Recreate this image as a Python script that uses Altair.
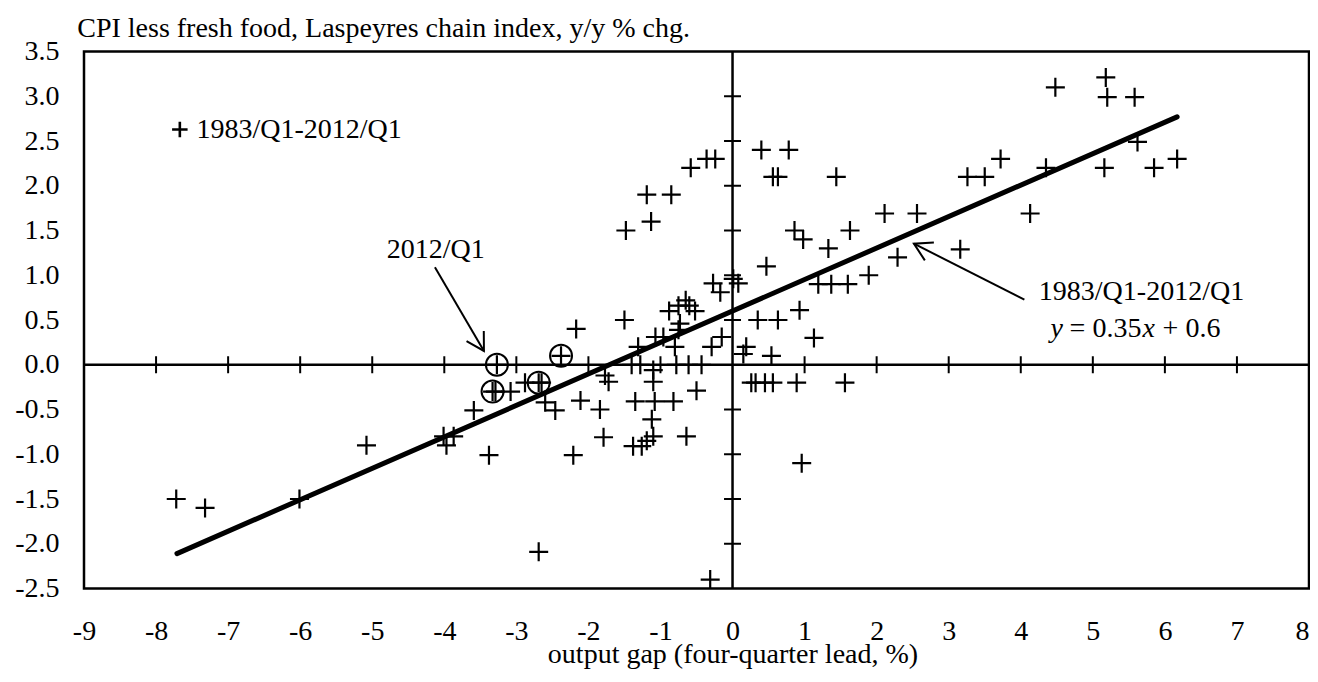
import altair as alt
import pandas as pd

# ---------------- data ----------------
gap_x = [
    -7.72, -7.32, -6.01, -5.08,
    -4.01, -3.87, -3.97, -3.59, -3.38,
    -3.27, -3.33, -3.29, -3.08, -2.88, -2.69, -2.65, -2.38,
    -2.60, -2.46, -2.69, -2.21, -2.17, -2.11,
    -1.84, -1.79, -1.77, -1.72, -1.50,
    -1.40, -1.28, -1.31, -1.10, -1.10, -1.35, -1.08, -0.82, -1.12, -1.10, -1.19, -1.38, -1.26, -0.64, -0.50,
    -1.07, -0.96, -0.80, -0.75, -0.88, -0.75, -0.65, -0.60, -0.52, -0.73,
    -0.78, -0.61, -0.43, -0.29, -0.15, -0.31,
    -0.27, -0.17, 0.01, 0.08,
    -1.48, -1.13, -1.19, -0.85, -0.58, -0.36, -0.24,
    0.40, 0.78, 0.56, 0.63, 1.44, 0.86, 0.98, 1.63, 1.33, 0.47, 1.89, 1.19, 1.37, 1.60, 0.93, 0.35, 0.63, 1.13, 0.19, 0.15, 0.54,
    0.26, 0.32, 0.45, 0.56, 0.89, 1.56, 0.96,
    2.11, 2.56, 3.16, 2.29, 3.26, 3.50, 3.72, 4.13, 4.35, 4.48, 5.18, 5.20, 5.58, 5.62, 5.16, 5.85, 6.17,
]
cpi_y = [
    -1.50, -1.60, -1.50, -0.90,
    -0.80, -0.80, -0.90, -0.51, -1.01,
    0.00, -0.30, -0.30, -0.30, -0.20, -0.20, -0.20, 0.10,
    -0.42, -0.51, -2.09, -1.01, 0.40, -0.40,
    -0.50, -0.81, -0.12, -0.19, 0.50,
    0.00, 0.00, 0.20, -0.06, -0.19, -0.41, -0.41, -0.41, -0.61, -0.80, -0.85, -0.91, -0.91, -0.80, -0.29,
    0.31, 0.31, 0.20, 0.39, 0.60, 0.66, 0.72, 0.66, 0.60, 0.46,
    0.00, 0.00, 0.00, 0.20, 0.31, -2.40,
    0.91, 0.81, 0.96, 0.91,
    1.50, 1.60, 1.90, 1.90, 2.20, 2.30, 2.30,
    2.40, 2.40, 2.10, 2.10, 2.10, 1.50, 1.40, 1.50, 1.30, 1.10, 1.00, 0.90, 0.90, 0.90, 0.61, 0.50, 0.50, 0.30, 0.20, 0.12, 0.10,
    -0.20, -0.20, -0.20, -0.20, -0.20, -0.20, -1.10,
    1.69, 1.69, 1.29, 1.20, 2.10, 2.10, 2.30, 1.69, 2.20, 3.10, 3.21, 2.99, 2.99, 2.49, 2.20, 2.20, 2.30,
]

# circled observations (recent quarters incl. 2012/Q1)
hl_x = [-3.27, -3.33, -2.69, -2.38]
hl_y = [0.00, -0.30, -0.20, 0.10]

# regression line y = 0.35x + 0.6 (end points)
fit_x = [-7.71, 6.17]
fit_y = [-2.11, 2.77]

x_tick_vals = [-9, -8, -7, -6, -5, -4, -3, -2, -1, 0, 1, 2, 3, 4, 5, 6, 7, 8]
y_tick_vals = [-2.5, -2.0, -1.5, -1.0, -0.5, 0.0, 0.5, 1.0, 1.5, 2.0, 2.5, 3.0, 3.5]
zero_x_ticks = [-8, -7, -6, -5, -4, -3, -2, -1, 1, 2, 3, 4, 5, 6, 7]
zero_y_ticks = [-2.0, -1.5, -1.0, -0.5, 0.5, 1.0, 1.5, 2.0, 2.5, 3.0]

# arrows (annotation)
arrow_x0 = [-4.13, 4.05]
arrow_y0 = [1.09, 0.727]
arrow_x1 = [-3.45, 2.517]
arrow_y1 = [0.154, 1.353]
arrow_angle = [59.6, 206.8]

x_title = "output gap (four-quarter lead, %)"
y_title = "CPI less fresh food, Laspeyres chain index, y/y % chg."
series_label = "1983/Q1-2012/Q1"

FONT = "Liberation Serif"
FS = 28
PLUS = "M-1,0L1,0M0,-1L0,1"
HEAD = "M-0.866,-0.5L0,0L-0.866,0.5"

xs = alt.Scale(domain=[-9, 8], nice=False, zero=False)
ys = alt.Scale(domain=[-2.5, 3.5], nice=False, zero=False)

x_axis = alt.Axis(
    values=x_tick_vals,
    labelExpr="datum.value < 0 ? '-' + format(-datum.value, 'd') : format(datum.value, 'd')",
    labelAlign={"condition": {"test": "datum.value == 8", "value": "right"},
                "value": "center"},
    labelPadding=29, labelFlush=False, labelOverlap=False,
    title=x_title, titleX=648.5, titleY=73.5, titleAlign="center",
    titleBaseline="alphabetic",
)
y_axis = alt.Axis(
    values=y_tick_vals,
    labelExpr="datum.value < 0 ? '-' + format(-datum.value, '.1f') : format(datum.value, '.1f')",
    labelPadding=25, labelFlush=False, labelOverlap=False,
    title=y_title, titleAngle=0, titleX=-7.3, titleY=-15.5, titleAlign="left",
    titleBaseline="alphabetic",
)


def X(field="gap"):
    return alt.X(f"{field}:Q", scale=xs, axis=x_axis)


def Y(field="cpi"):
    return alt.Y(f"{field}:Q", scale=ys, axis=y_axis)


pts = pd.DataFrame({"gap": gap_x, "cpi": cpi_y})
hl = pd.DataFrame({"gap": hl_x, "cpi": hl_y})
fit = pd.DataFrame({"gap": fit_x, "cpi": fit_y})
zx = pd.DataFrame({"gap": zero_x_ticks, "cpi": [0.0] * len(zero_x_ticks)})
zy = pd.DataFrame({"gap": [0.0] * len(zero_y_ticks), "cpi": zero_y_ticks})
arrows = pd.DataFrame({"gap": arrow_x0, "cpi": arrow_y0, "gap2": arrow_x1,
                       "cpi2": arrow_y1, "ang": arrow_angle})

# zero lines
vline = alt.Chart(pd.DataFrame({"gap": [0.0]})).mark_rule(
    color="black", strokeWidth=2.5).encode(x=X())
hline = alt.Chart(pd.DataFrame({"cpi": [0.0]})).mark_rule(
    color="black", strokeWidth=2.5).encode(y=Y())
xticks = alt.Chart(zx).mark_tick(orient="vertical", size=17, thickness=2,
                                 color="black", opacity=1).encode(x=X(), y=Y())
yticks = alt.Chart(zy).mark_tick(orient="horizontal", size=17, thickness=2,
                                 color="black", opacity=1).encode(x=X(), y=Y())

fitline = alt.Chart(fit).mark_line(color="black", strokeWidth=5,
                                   strokeCap="round").encode(x=X(), y=Y())

plus = alt.Chart(pts).mark_point(shape=PLUS, size=361, filled=False,
                                 stroke="black", strokeWidth=2.2,
                                 opacity=1).encode(x=X(), y=Y())
circ = alt.Chart(hl).mark_point(shape="circle", size=484, filled=False,
                                stroke="black", strokeWidth=2,
                                opacity=1).encode(x=X(), y=Y())

shafts = alt.Chart(arrows).mark_rule(color="black", strokeWidth=2).encode(
    x=X(), y=Y(), x2="gap2:Q", y2="cpi2:Q")
heads = alt.Chart(arrows).mark_point(shape=HEAD, size=1600, filled=False,
                                     stroke="black", strokeWidth=2,
                                     opacity=1).encode(
    x=alt.X("gap2:Q", scale=xs, axis=x_axis),
    y=alt.Y("cpi2:Q", scale=ys, axis=y_axis),
    angle=alt.Angle("ang:Q", scale=None))

# legend (top-left)
leg_mark = alt.Chart(pd.DataFrame({"gap": [-7.67], "cpi": [2.629]})).mark_point(
    shape=PLUS, size=240, filled=False, stroke="black", strokeWidth=2.6,
    opacity=1).encode(x=X(), y=Y())
leg_text = alt.Chart(pd.DataFrame({"gap": [-7.44], "cpi": [2.534],
                                   "t": [series_label]})).mark_text(
    font=FONT, fontSize=FS, align="left", baseline="alphabetic",
    color="black").encode(x=X(), y=Y(), text="t:N")

# annotations
ann_2012 = alt.Chart(pd.DataFrame({"gap": [-4.118], "cpi": [1.191],
                                   "t": ["2012/Q1"]})).mark_text(
    font=FONT, fontSize=FS, align="center", baseline="alphabetic",
    color="black").encode(x=X(), y=Y(), text="t:N")
ann_fit = alt.Chart(pd.DataFrame({"gap": [5.675], "cpi": [0.721],
                                  "t": [series_label]})).mark_text(
    font=FONT, fontSize=FS, align="center", baseline="alphabetic",
    color="black").encode(x=X(), y=Y(), text="t:N")

eq_df = pd.DataFrame({"gap": [4.414], "cpi": [0.308]})


def eq_piece(txt, dx, italic):
    return alt.Chart(eq_df.assign(t=[txt])).mark_text(
        font=FONT, fontSize=FS, align="left", baseline="alphabetic",
        fontStyle="italic" if italic else "normal", dx=dx,
        color="black").encode(x=X(), y=Y(), text="t:N")


eq = [eq_piece("y", 0, True), eq_piece("= 0.35", 19, False),
      eq_piece("x", 92, True), eq_piece("+ 0.6", 112, False)]

chart = alt.layer(
    vline, hline, xticks, yticks, fitline, circ, plus, shafts, heads,
    leg_mark, leg_text, ann_2012, ann_fit, *eq,
).properties(
    width=1225, height=537,
    autosize=alt.AutoSizeParams(type="none"),
    padding={"left": 76, "top": 43.5, "right": 1, "bottom": 80},
    background="white",
).configure_view(
    stroke="black", strokeWidth=2.5
).configure_axis(
    grid=False, domain=False, ticks=False, tickSize=0,
    labelFont=FONT, labelFontSize=FS, labelColor="black",
    titleFont=FONT, titleFontSize=FS, titleFontWeight="normal", titleColor="black",
)

chart.save("out.html", embed_options={"renderer": "svg", "actions": False})
